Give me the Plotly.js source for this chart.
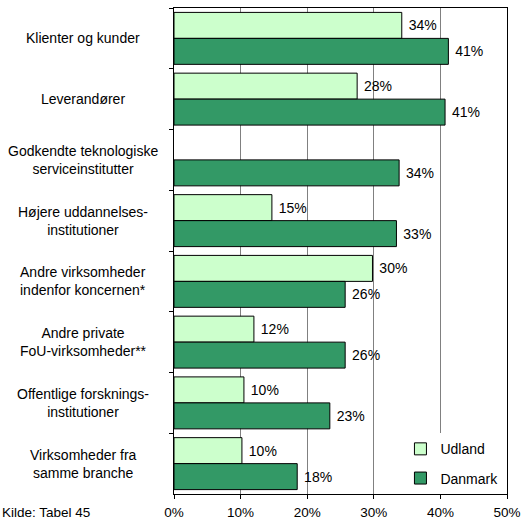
<!DOCTYPE html>
<html>
<head>
<meta charset="utf-8">
<script src="https://cdn.plot.ly/plotly-3.0.1.min.js"></script>
<style>html,body{margin:0;padding:0;background:#fff;}#chart{width:525px;height:522px;}</style>
</head>
<body>
<div id="chart"></div>
<script>
var categories = [
  "Klienter og kunder",
  "Leverandører",
  "Godkendte teknologiske<br>serviceinstitutter",
  "Højere uddannelses-<br>institutioner",
  "Andre virksomheder<br>indenfor koncernen*",
  "Andre private<br>FoU-virksomheder**",
  "Offentlige forsknings-<br>institutioner",
  "Virksomheder fra<br>samme branche"
];
var udland = [34.2, 27.5, null, 14.7, 29.8, 12.0, 10.5, 10.2];
var udlandLabels = ["34%", "28%", "", "15%", "30%", "12%", "10%", "10%"];
var danmark = [41.2, 40.7, 33.8, 33.4, 25.7, 25.7, 23.4, 18.5];
var danmarkLabels = ["41%", "41%", "34%", "33%", "26%", "26%", "23%", "18%"];
var xTickVals = [0, 10, 20, 30, 40, 50];
var xTickText = ["0%", "10%", "20%", "30%", "40%", "50%"];
var sourceNote = "Kilde: Tabel 45";

var fontFam = "Liberation Sans, Arial, sans-serif";

var traces = [
  {
    type: "bar", orientation: "h", name: "Udland",
    y: categories, x: udland, text: udlandLabels,
    texttemplate: "\u00a0%{text}", textposition: "outside",
    constraintext: "none", cliponaxis: false,
    textfont: {family: fontFam, size: 14, color: "#000"},
    marker: {color: "#CCFFCC", line: {color: "#000", width: 1}},
    legendgroup: "a", hoverinfo: "none"
  },
  {
    type: "bar", orientation: "h", name: "Danmark",
    y: categories, x: danmark, text: danmarkLabels,
    texttemplate: "\u00a0%{text}", textposition: "outside",
    constraintext: "none", cliponaxis: false,
    textfont: {family: fontFam, size: 14, color: "#000"},
    marker: {color: "#339966", line: {color: "#000", width: 1}},
    legendgroup: "b", hoverinfo: "none"
  }
];

var annotations = categories.map(function (c) {
  return {
    xref: "paper", yref: "y", x: -0.273, y: c, text: c,
    showarrow: false, xanchor: "center", yanchor: "middle", align: "center",
    font: {family: fontFam, size: 14, color: "#000"}
  };
});
annotations.push({
  xref: "paper", yref: "paper", x: -0.5225, y: -0.018, text: sourceNote,
  showarrow: false, xanchor: "left", yanchor: "top", align: "left",
  font: {family: fontFam, size: 13.5, color: "#000"}
});

var layout = {
  width: 525, height: 522,
  margin: {l: 174, r: 18, t: 8, b: 28, pad: 0},
  paper_bgcolor: "#fff", plot_bgcolor: "#fff",
  font: {family: fontFam, size: 14, color: "#000"},
  barmode: "group", bargap: 0.145, bargroupgap: 0,
  showlegend: true,
  legend: {
    x: 0.68, y: 0.125, xanchor: "left", yanchor: "top",
    bgcolor: "#fff", borderwidth: 0,
    traceorder: "grouped", tracegroupgap: 8,
    font: {family: fontFam, size: 14, color: "#000"}
  },
  xaxis: {
    range: [0, 50], tickvals: xTickVals, ticktext: xTickText,
    showgrid: true, gridcolor: "#808080", gridwidth: 1,
    showline: true, linecolor: "#000", linewidth: 1, mirror: true,
    ticks: "outside", ticklen: 4, tickcolor: "#000",
    ticklabelstandoff: 2, zeroline: false, fixedrange: true,
    tickfont: {family: fontFam, size: 13.5, color: "#000"}
  },
  yaxis: {
    type: "category", autorange: "reversed",
    showticklabels: false, showgrid: false,
    tickson: "boundaries", ticks: "outside", ticklen: 4, tickcolor: "#000",
    showline: true, linecolor: "#000", linewidth: 1, mirror: true,
    zeroline: false, fixedrange: true
  },
  annotations: annotations
};

Plotly.newPlot("chart", traces, layout, {staticPlot: true, displayModeBar: false});
</script>
</body>
</html>
